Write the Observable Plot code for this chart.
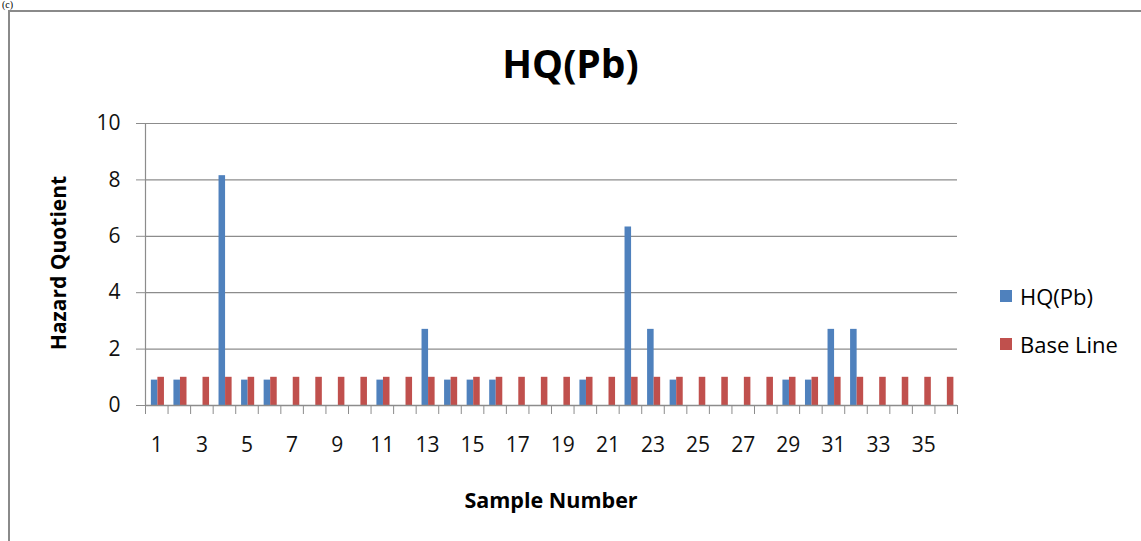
<!DOCTYPE html>
<html>
<head>
<meta charset="utf-8">
<script src="https://cdn.jsdelivr.net/npm/d3@7"></script>
<script src="https://cdn.jsdelivr.net/npm/@observablehq/plot@0.6"></script>
<style>
  html, body { margin: 0; padding: 0; background: #fff; }
  #wrap { position: relative; width: 1141px; height: 541px; overflow: hidden; font-family: "Open Sans", sans-serif; }
  #wrap svg { position: absolute; left: 0; top: 0; }
  .frame { position: absolute; left: 8px; top: 10px; width: 1300px; height: 700px; border-left: 2px solid #8a8a8a; border-top: 2px solid #8a8a8a; }
  .tag { position: absolute; left: 2px; top: 0px; font-family: "Liberation Serif", serif; font-size: 10px; line-height: 10px; color: #000; }
  .title { position: absolute; left: 0; width: 1141px; top: 36px; text-align: center; font-weight: bold; font-size: 39px; color: #000; }
  .ylab { position: absolute; left: 58px; top: 263px; transform: translate(-50%, -50%) rotate(-90deg); font-weight: bold; font-size: 21px; white-space: nowrap; color: #000; }
  .xlab { position: absolute; left: 551px; top: 499px; transform: translate(-50%, -50%); font-weight: bold; font-size: 21.5px; white-space: nowrap; color: #000; }
  .legend { position: absolute; left: 1000px; top: 281px; font-size: 22px; color: #000; }
  .legend div { display: flex; align-items: center; height: 30px; margin-bottom: 18px; }
  .legend span.sw { display: inline-block; width: 12px; height: 12px; margin-right: 8px; }
</style>
</head>
<body>
<div id="wrap">
  <div class="frame"></div>
  <div class="tag">(c)</div>
  <div id="chart"></div>
  <div class="title">HQ(Pb)</div>
  <div class="ylab">Hazard Quotient</div>
  <div class="xlab">Sample Number</div>
  <div class="legend" id="legend"></div>
</div>
<script>
const samples = [1,2,3,4,5,6,7,8,9,10,11,12,13,14,15,16,17,18,19,20,21,22,23,24,25,26,27,28,29,30,31,32,33,34,35,36];
const hqPb    = [0.9,0.9,0,8.15,0.9,0.9,0,0,0,0,0.9,0,2.7,0.9,0.9,0.9,0,0,0,0.9,0,6.33,2.7,0.9,0,0,0,0,0.9,0.9,2.7,2.7,0,0,0,0];
const baseLine = [1,1,1,1,1,1,1,1,1,1,1,1,1,1,1,1,1,1,1,1,1,1,1,1,1,1,1,1,1,1,1,1,1,1,1,1];
const seriesNames = ["HQ(Pb)", "Base Line"];
const seriesColors = ["#4F81BD", "#C0504D"];
const yTicks = [0, 2, 4, 6, 8, 10];
const xTickLabels = [1,3,5,7,9,11,13,15,17,19,21,23,25,27,29,31,33,35];

const rows = [];
samples.forEach((s, i) => {
  rows.push({sample: s, series: seriesNames[0], value: hqPb[i], idx: 0});
  rows.push({sample: s, series: seriesNames[1], value: baseLine[i], idx: 1});
});
const bw = 0.29, off = 0.05;
const boundaries = [0, ...samples].map(s => s + 0.5);

const plot = Plot.plot({
  width: 1141,
  height: 541,
  marginLeft: 145,
  marginRight: 184,
  marginTop: 123,
  marginBottom: 136,
  style: {fontFamily: "Open Sans, sans-serif", background: "transparent", color: "#111"},
  x: {domain: [0.5, 36.5], axis: null},
  y: {domain: [0, 10], axis: null},
  color: {domain: seriesNames, range: seriesColors},
  marks: [
    Plot.ruleY(yTicks.filter(t => t > 0), {stroke: "#8c8c8c", strokeWidth: 1.2}),
    Plot.rectY(rows, {
      x1: d => d.sample + off - bw + d.idx * bw,
      x2: d => d.sample + off + d.idx * bw,
      y1: 0,
      y2: "value",
      fill: "series"
    }),
    Plot.ruleX([0.5], {y1: 0, y2: 10, stroke: "#8c8c8c", strokeWidth: 1.2}),
    Plot.ruleY([0], {stroke: "#8c8c8c", strokeWidth: 1.5}),
    Plot.axisY(yTicks, {anchor: "left", tickSize: 9, tickPadding: 16, stroke: "#8c8c8c", fontSize: 21, fill: "#111", label: null}),
    Plot.axisX(boundaries, {anchor: "bottom", tickSize: 9, tickFormat: () => "", stroke: "#8c8c8c", label: null}),
    Plot.axisX(xTickLabels, {anchor: "bottom", tickSize: 0, tickPadding: 32, fontSize: 21, fill: "#111", label: null})
  ]
});
document.getElementById("chart").appendChild(plot);

const legend = document.getElementById("legend");
seriesNames.forEach((n, i) => {
  const row = document.createElement("div");
  const sw = document.createElement("span");
  sw.className = "sw";
  sw.style.background = seriesColors[i];
  row.appendChild(sw);
  row.appendChild(document.createTextNode(n));
  legend.appendChild(row);
});
</script>
</body>
</html>
